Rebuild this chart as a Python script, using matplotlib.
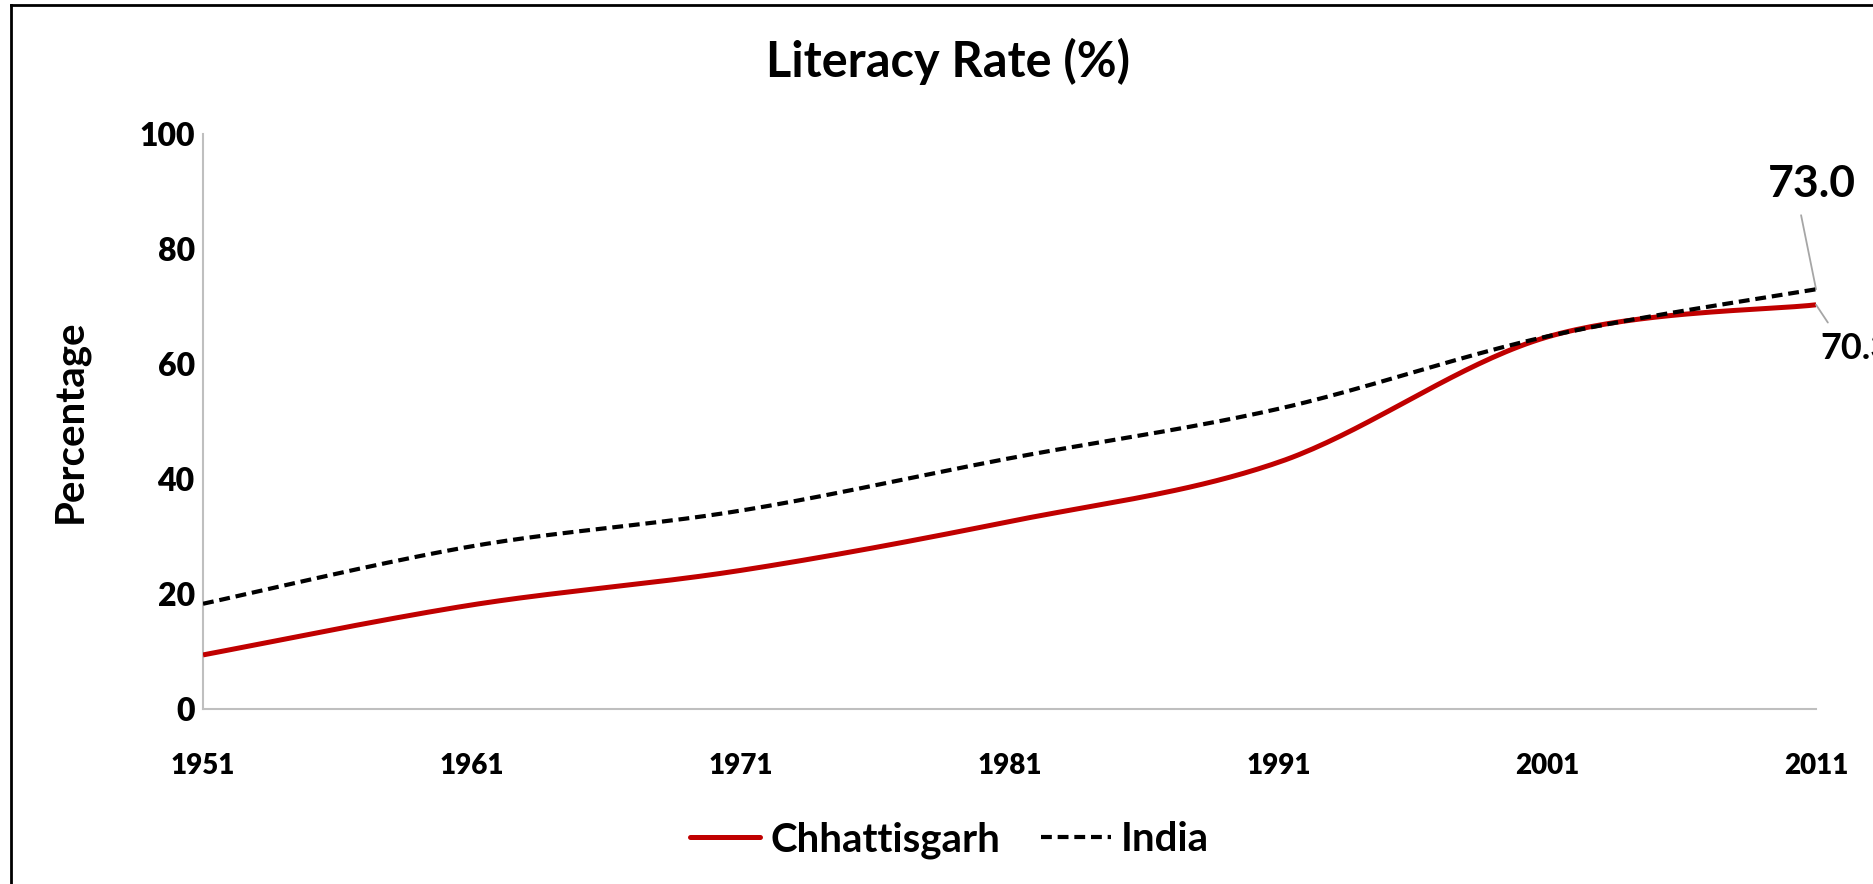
import numpy as np
import matplotlib
matplotlib.use("Agg")
import matplotlib.pyplot as plt
from matplotlib.lines import Line2D

plt.rcParams['font.family'] = ['Lato', 'DejaVu Sans']

# Census years and literacy rates (%)
years = [1951, 1961, 1971, 1981, 1991, 2001, 2011]
chhattisgarh = [9.4, 18.1, 24.1, 32.6, 42.9, 64.7, 70.3]
india = [18.3, 28.3, 34.5, 43.6, 52.2, 64.8, 73.0]
y_ticks = [0, 20, 40, 60, 80, 100]

RED = "#c00000"
GRAY = "#bfbfbf"
LEADER = "#a6a6a6"


def smooth(xs, ys, n=40):
    """Smoothed line through the points (Catmull-Rom style Bezier segments)."""
    p = np.column_stack([xs, ys]).astype(float)
    p = np.vstack([p[0], p, p[-1]])
    out = []
    t = np.linspace(0, 1, n)[:, None]
    for i in range(1, len(p) - 2):
        p0, p1, p2, p3 = p[i - 1], p[i], p[i + 1], p[i + 2]
        c1 = p1 + (p2 - p0) / 6.0
        c2 = p2 - (p3 - p1) / 6.0
        seg = ((1 - t) ** 3) * p1 + 3 * ((1 - t) ** 2) * t * c1 + 3 * (1 - t) * t ** 2 * c2 + t ** 3 * p2
        out.append(seg if i == 1 else seg[1:])
    s = np.vstack(out)
    return s[:, 0], s[:, 1]


fig = plt.figure(figsize=(18.73, 8.84), dpi=100)
ax = fig.add_axes([0.1084, 0.198, 0.9696 - 0.1084, 0.8484 - 0.198])

cx, cy = smooth(years, chhattisgarh)
ix, iy = smooth(years, india)
ax.plot(cx, cy, color=RED, lw=3.6, solid_capstyle='butt', zorder=3)
ax.plot(ix, iy, color='black', lw=3.0, linestyle=(0, (2.6, 1.4)), zorder=4)

ax.set_xlim(years[0], years[-1])
ax.set_ylim(0, 100)
ax.tick_params(axis='both', length=0)
ax.tick_params(axis='x', pad=32)
ax.tick_params(axis='y', pad=6)
ax.set_xticks(years)
ax.set_xticklabels([str(y) for y in years], fontsize=20, fontweight='heavy')
ax.set_yticks(y_ticks)
ax.set_yticklabels([str(v) for v in y_ticks], fontsize=23, fontweight='heavy')

for side in ['top', 'right']:
    ax.spines[side].set_visible(False)
for side in ['left', 'bottom']:
    ax.spines[side].set_color(GRAY)
    ax.spines[side].set_linewidth(1.5)

ax.set_ylabel("Percentage", fontsize=29, fontweight='bold', labelpad=36)

# End-point value labels with leader lines
ax.annotate(f"{india[-1]:.1f}", xy=(years[-1], india[-1]), xytext=(-4, 105),
            textcoords='offset pixels', ha='center', va='center',
            fontsize=32, fontweight='bold', annotation_clip=False,
            arrowprops=dict(arrowstyle='-', color=LEADER, lw=1.3,
                            shrinkA=6, shrinkB=0, relpos=(0.35, 0.0)))
ax.annotate(f"{chhattisgarh[-1]:.1f}", xy=(years[-1], chhattisgarh[-1]), xytext=(4, -44),
            textcoords='offset pixels', ha='left', va='center',
            fontsize=26, fontweight='bold', annotation_clip=False,
            arrowprops=dict(arrowstyle='-', color=LEADER, lw=1.3,
                            shrinkA=6, shrinkB=0, relpos=(0.2, 1.0)))

fig.text(0.506, 0.93, "Literacy Rate (%)", ha='center', va='center',
         fontsize=35, fontweight='bold')

handles = [Line2D([], [], color=RED, lw=3.6, solid_capstyle='round'),
           Line2D([], [], color='black', lw=3.0, linestyle=(0, (2.6, 1.4)))]
fig.legend(handles, ["Chhattisgarh", "India"], loc='center', bbox_to_anchor=(0.507, 0.05),
           ncol=2, frameon=False, prop={'size': 29, 'weight': 'bold'},
           handlelength=1.75, handletextpad=0.25, columnspacing=1.0)

# Outer border (left and top edges)
fig.add_artist(Line2D([11 / 1873, 11 / 1873], [0, 1 - 5 / 884], transform=fig.transFigure,
                      color='black', lw=2))
fig.add_artist(Line2D([11 / 1873, 1], [1 - 5 / 884, 1 - 5 / 884], transform=fig.transFigure,
                      color='black', lw=2))

fig.savefig("out.png", dpi=100)
